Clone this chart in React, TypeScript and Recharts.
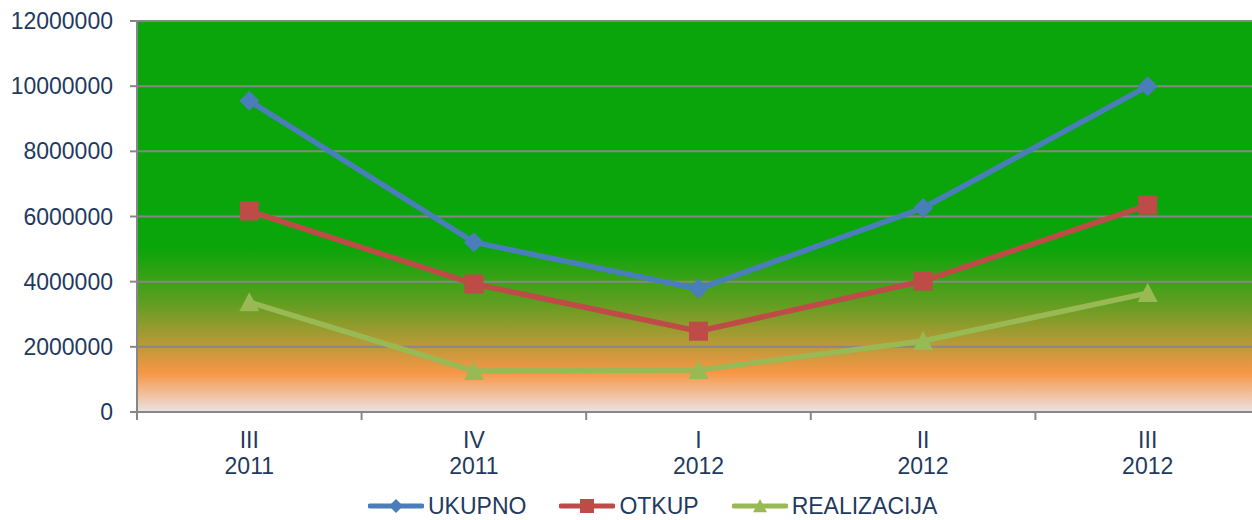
import type { JSX } from "react";
import { LineChart, Line, CartesianGrid, XAxis, YAxis } from "recharts";

const quarters = ["III", "IV", "I", "II", "III"];
const years = ["2011", "2011", "2012", "2012", "2012"];
const ukupno = [9550000, 5210000, 3780000, 6260000, 10000000];
const otkup = [6170000, 3930000, 2480000, 4020000, 6350000];
const realizacija = [3370000, 1260000, 1290000, 2180000, 3650000];
const yTicks = [0, 2000000, 4000000, 6000000, 8000000, 10000000, 12000000];

const data = quarters.map((q, i) => ({
  label: `${q}\n${years[i]}`,
  UKUPNO: ukupno[i],
  OTKUP: otkup[i],
  REALIZACIJA: realizacija[i],
}));

const CHART_W = 1260;
const CHART_H = 520;
const Y_W = 137;
const BAND = (CHART_W - Y_W) / data.length;
const TEXT = "#1f3a60";
const GRID = "#878787";
const FONT = "'Liberation Sans', Arial, sans-serif";

const BLUE = "#4a7ebb";
const RED = "#be4b48";
const GREEN = "#98b954";

const Diamond = ({ cx, cy, r, color }: any) => (
  <path
    d={`M${cx},${cy - r} L${cx + r},${cy} L${cx},${cy + r} L${cx - r},${cy} Z`}
    fill={color}
  />
);
const Square = ({ cx, cy, r, color }: any) => (
  <rect x={cx - r} y={cy - r} width={r * 2} height={r * 2} fill={color} />
);
const Triangle = ({ cx, cy, r, color }: any) => (
  <path
    d={`M${cx},${cy - r} L${cx + r},${cy + r * 0.9} L${cx - r},${cy + r * 0.9} Z`}
    fill={color}
  />
);

const XTick = ({ x, y, payload }: any) => {
  const [a, b] = String(payload.value).split("\n");
  return (
    <g>
      <line x1={x - BAND / 2} x2={x - BAND / 2} y1={y} y2={y + 8} stroke={GRID} strokeWidth={2} />
      <text x={x} y={y} textAnchor="middle" fill={TEXT} fontSize={23} fontFamily={FONT}>
        <tspan x={x} dy={36}>{a}</tspan>
        <tspan x={x} dy={26}>{b}</tspan>
      </text>
    </g>
  );
};

const legendItems = [
  { name: "UKUPNO", color: BLUE, Shape: Diamond },
  { name: "OTKUP", color: RED, Shape: Square },
  { name: "REALIZACIJA", color: GREEN, Shape: Triangle },
];

const App = (): JSX.Element => {
  return (
    <div style={{ position: "absolute", left: 0, top: 0, width: 1252, height: 520, overflow: "hidden", background: "#fff" }}>
      <LineChart width={CHART_W} height={CHART_H} data={data} margin={{ top: 21, right: 0, bottom: 0, left: 0 }}>
        <defs>
          <linearGradient id="bg" x1="0" y1="0" x2="0" y2="1">
            <stop offset="0" stopColor="#0aa50a" />
            <stop offset="0.58" stopColor="#0aa50a" />
            <stop offset="0.72" stopColor="#5f9e20" />
            <stop offset="0.9" stopColor="#f79646" />
            <stop offset="1" stopColor="#ebe3e3" />
          </linearGradient>
        </defs>
        <CartesianGrid vertical={false} stroke={GRID} strokeWidth={2} fill="url(#bg)" fillOpacity={1} />
        <XAxis
          dataKey="label"
          height={108}
          tickLine={false}
          tickSize={0}
          tickMargin={0}
          interval={0}
          padding={{ left: BAND / 2, right: BAND / 2 }}
          axisLine={{ stroke: GRID, strokeWidth: 2 }}
          tick={<XTick />}
        />
        <YAxis
          width={Y_W}
          domain={[0, 12000000]}
          ticks={yTicks}
          interval={0}
          tickSize={7}
          tickMargin={17}
          tickLine={{ stroke: GRID, strokeWidth: 2 }}
          axisLine={{ stroke: GRID, strokeWidth: 2 }}
          tick={{ fill: TEXT, fontSize: 23, fontFamily: FONT }}
          tickFormatter={(v: number) => String(v)}
        />
        <Line
          dataKey="UKUPNO"
          stroke={BLUE}
          strokeWidth={5.5}
          isAnimationActive={false}
          activeDot={false}
          dot={(p: any) => <Diamond key={p.index} cx={p.cx} cy={p.cy} r={10} color={BLUE} />}
        />
        <Line
          dataKey="OTKUP"
          stroke={RED}
          strokeWidth={5.5}
          isAnimationActive={false}
          activeDot={false}
          dot={(p: any) => <Square key={p.index} cx={p.cx} cy={p.cy} r={9.5} color={RED} />}
        />
        <Line
          dataKey="REALIZACIJA"
          stroke={GREEN}
          strokeWidth={5.5}
          isAnimationActive={false}
          activeDot={false}
          dot={(p: any) => <Triangle key={p.index} cx={p.cx} cy={p.cy} r={10} color={GREEN} />}
        />
      </LineChart>
      <div
        style={{
          position: "absolute",
          left: 368,
          top: 494,
          display: "flex",
          alignItems: "center",
          fontFamily: FONT,
          fontSize: 23,
          color: TEXT,
          lineHeight: "24px",
        }}
      >
        {legendItems.map(({ name, color, Shape }) => (
          <div key={name} style={{ display: "flex", alignItems: "center", marginRight: 33 }}>
            <svg width={56} height={20} style={{ marginRight: 4 }}>
              <line x1={2} x2={54} y1={10} y2={10} stroke={color} strokeWidth={5} strokeLinecap="round" />
              <Shape cx={28} cy={10} r={7} color={color} />
            </svg>
            <span style={{ whiteSpace: "nowrap" }}>{name}</span>
          </div>
        ))}
      </div>
    </div>
  );
};

export default App;
